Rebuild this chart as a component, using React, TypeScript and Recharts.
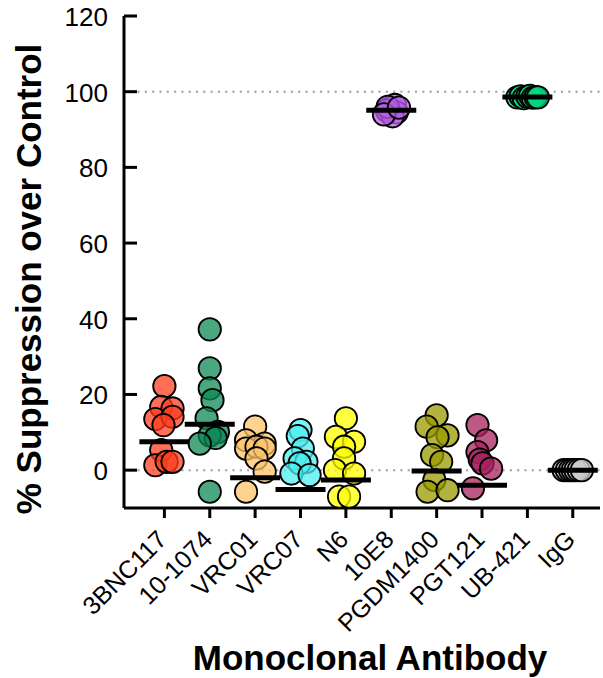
import React from 'react';
import { ScatterChart, Scatter, XAxis, YAxis, ReferenceLine } from 'recharts';

const categories = ['3BNC117', '10-1074', 'VRC01', 'VRC07', 'N6', '10E8', 'PGDM1400', 'PGT121', 'UB-421', 'IgG'];
const yTicks = [0, 20, 40, 60, 80, 100, 120];

// % suppression values per antibody
const v3BNC117 = [22.2, 16.7, 16.3, 13.5, 14.1, 11.9, 5.3, 1.3, 2.2, 2.2];
const v101074 = [37.2, 26.9, 21.6, 18.5, 13.7, 10.1, 9.2, 8.5, 7.0, -5.7];
const vVRC01 = [11.5, 7.9, 7.0, 5.7, 6.2, 5.7, 3.1, -0.4, -5.7];
const vVRC07 = [10.6, 9.0, 5.7, 3.1, 2.2, 1.8, -0.9, -1.3];
const vN6 = [13.7, 8.8, 7.5, 6.2, 3.1, 0.0, -0.9, -7.0, -7.0];
const v10E8 = [95.5, 96.5, 94.5, 95.0, 93.5, 96.0, 94.0, 95.8];
const vPGDM1400 = [14.5, 11.5, 9.2, 8.7, 4.0, 2.2, -2.6, -5.7, -5.3];
const vPGT121 = [11.9, 7.9, 4.8, 2.8, 1.8, 0.4, -4.8];
const vUB421 = [98.5, 98.8, 98.3, 98.7, 98.9, 98.4, 98.6, 98.5];
const vIgG = [0, 0, 0, 0, 0, 0, 0];

// horizontal scatter offsets (category units)
const j3BNC117 = [0, -0.07, 0.18, -0.2, 0.18, -0.02, -0.07, -0.2, 0.05, 0.18];
const j101074 = [0, 0, 0, 0.06, -0.07, 0.18, 0, 0.13, -0.22, 0];
const jVRC01 = [0, -0.2, 0.21, -0.2, 0.03, 0.21, 0.03, 0.21, -0.2];
const jVRC07 = [0, -0.06, 0.05, -0.13, 0.13, -0.02, -0.2, 0.2];
const jN6 = [0, -0.22, 0.18, -0.04, -0.04, -0.24, 0.18, -0.15, 0.07];
const j10E8 = [-0.05, 0.08, 0.12, -0.1, 0.03, -0.08, -0.16, 0.17];
const jPGDM1400 = [0, -0.22, 0.24, 0.02, -0.1, 0.1, -0.05, -0.2, 0.24];
const jPGT121 = [-0.1, 0.09, -0.1, -0.05, 0.01, 0.2, -0.2];
const jUB421 = [-0.22, -0.15, -0.08, 0, 0.06, 0.12, 0.18, 0.23];
const jIgG = [-0.2, -0.13, -0.06, 0, 0.06, 0.13, 0.2];

const medians = [7.5, 12.1, -2.0, -5.1, -2.6, 95.1, -0.2, -4.0, 98.6, 0];

const seriesValues = [v3BNC117, v101074, vVRC01, vVRC07, vN6, v10E8, vPGDM1400, vPGT121, vUB421, vIgG];
const seriesJitter = [j3BNC117, j101074, jVRC01, jVRC07, jN6, j10E8, jPGDM1400, jPGT121, jUB421, jIgG];
const colors = ['#FF3D1F', '#0E8A55', '#FCC46A', '#4FEFF0', '#FFFF00', '#B95EED', '#999900', '#A8205F', '#00D880', '#CCCCCC'];

const FONT = "'Liberation Sans', Arial, Helvetica, sans-serif";

const makeShape = (color: string) => (props: any) => (
  <circle cx={props.cx} cy={props.cy} r={11.2} fill={color} fillOpacity={0.75} stroke="#000" strokeWidth={1.8} />
);

const MedianShape = (props: any) => (
  <line x1={props.cx - 25} x2={props.cx + 25} y1={props.cy} y2={props.cy} stroke="#000" strokeWidth={5} />
);

const YTick = (props: any) => {
  const { x, y, payload } = props;
  return (
    <g>
      <line x1={x + 16} x2={x + 29} y1={y} y2={y} stroke="#000" strokeWidth={3} />
      <text x={x} y={y + 1} textAnchor="end" dominantBaseline="central" fontSize={26} fontFamily={FONT} fill="#000">
        {payload.value}
      </text>
    </g>
  );
};

const XTick = (props: any) => {
  const { x, y, payload } = props;
  const ax = x + 4;
  return (
    <text x={ax} y={y} transform={`rotate(-45, ${ax}, ${y})`} textAnchor="end" fontSize={25} fontFamily={FONT} fill="#000">
      {categories[payload.value]}
    </text>
  );
};

const XTitle = () => (
  <text x={370} y={670} textAnchor="middle" fontSize={35} fontWeight="bold" fontFamily={FONT} fill="#000">
    Monoclonal Antibody
  </text>
);

const YTitle = () => (
  <text x={41} y={279} transform="rotate(-90, 41, 279)" textAnchor="middle" fontSize={35} fontWeight="bold" fontFamily={FONT} fill="#000">
    % Suppression over Control
  </text>
);

export default function App() {
  return (
    <div style={{ position: 'absolute', left: 0, top: 0, width: 603, height: 678, background: '#fff' }}>
      <ScatterChart width={603} height={678} margin={{ top: 16, right: 3, bottom: 0, left: 0 }}>
        <XAxis
          dataKey="x"
          type="number"
          domain={[-0.89, 9.6]}
          ticks={[0, 1, 2, 3, 4, 5, 6, 7, 8, 9]}
          interval={0}
          allowDataOverflow
          height={170}
          axisLine={{ stroke: '#000', strokeWidth: 3 }}
          tickLine={{ stroke: '#000', strokeWidth: 3 }}
          tickSize={10}
          tickMargin={23}
          tick={<XTick />}
          label={XTitle}
        />
        <YAxis
          dataKey="y"
          type="number"
          domain={[-10, 120]}
          ticks={yTicks}
          interval={0}
          allowDataOverflow
          width={124}
          axisLine={{ stroke: '#000', strokeWidth: 3 }}
          tickLine={false}
          tickSize={0}
          tickMargin={16}
          tick={<YTick />}
          label={YTitle}
        />
        <ReferenceLine y={0} stroke="#AAAAAA" strokeWidth={2.5} strokeDasharray="0 7.3" strokeLinecap="round" />
        <ReferenceLine y={100} stroke="#AAAAAA" strokeWidth={2.5} strokeDasharray="0 7.3" strokeLinecap="round" />
        {categories.map((c, i) => (
          <Scatter
            key={c}
            name={c}
            data={seriesValues[i].map((v, k) => ({ x: i + seriesJitter[i][k], y: v }))}
            shape={makeShape(colors[i])}
            isAnimationActive={false}
          />
        ))}
        <Scatter
          name="median"
          data={medians.map((m, i) => ({ x: i, y: m }))}
          shape={MedianShape}
          isAnimationActive={false}
        />
      </ScatterChart>
    </div>
  );
}
